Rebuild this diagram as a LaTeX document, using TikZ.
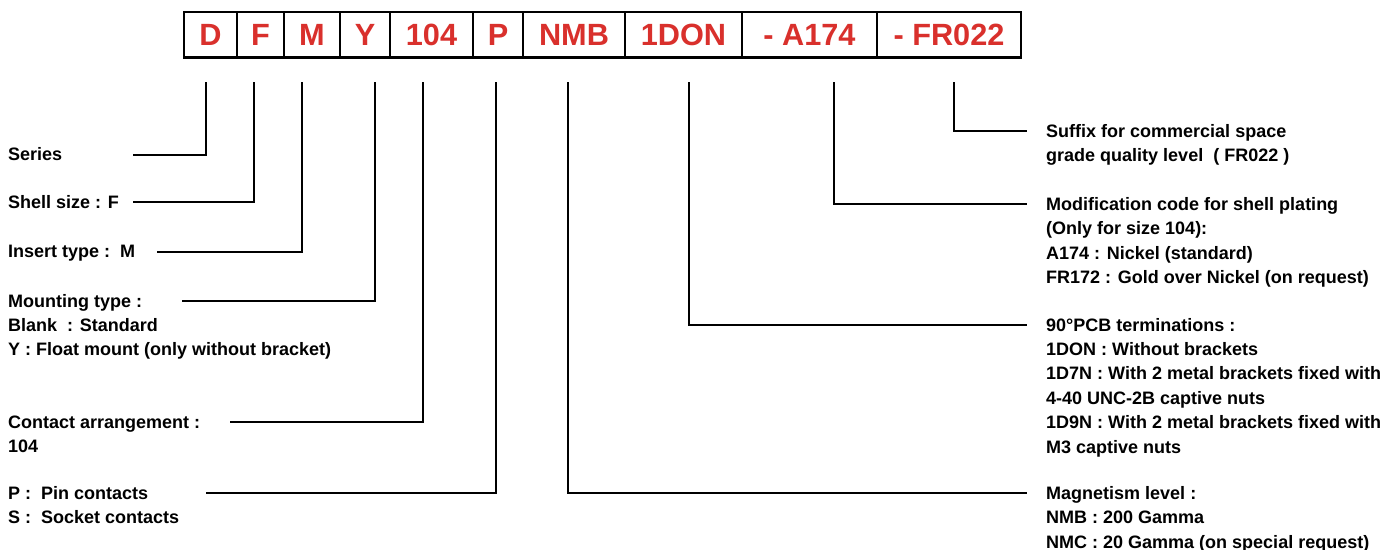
\documentclass[tikz,border=0pt]{standalone}
\usepackage{fontspec}
\setmainfont{Liberation Sans}
\definecolor{codered}{RGB}{217,48,44}
\begin{document}
\begin{tikzpicture}[x=1pt,y=-1pt,
  cbox/.style={draw=black,line width=2.6pt,minimum height=45.5pt,inner sep=0pt,
    text height=22pt,text depth=0pt,text=codered,
    font=\fontsize{30.7}{34}\selectfont\bfseries},
  lbl/.style={anchor=base west,inner sep=0pt,align=left,
    font=\fontsize{18}{24.4}\selectfont\bfseries},
  leader/.style={draw=black,line width=1.7pt}]
\useasboundingbox[fill=white] (0,0) rectangle (1389,549);
% code boxes
\node[cbox,minimum width=53pt]  (bD)    at (210.5,34.75) {D};
\node[cbox,minimum width=47pt]  (bF)    at (260.5,34.75) {F};
\node[cbox,minimum width=56pt]  (bM)    at (312,34.75)   {M};
\node[cbox,minimum width=50pt]  (bY)    at (365,34.75)   {Y};
\node[cbox,minimum width=83pt]  (b104)  at (431.5,34.75) {104};
\node[cbox,minimum width=50pt]  (bP)    at (498,34.75)   {P};
\node[cbox,minimum width=102pt] (bNMB)  at (574,34.75)   {NMB};
\node[cbox,minimum width=117pt] (bDON)  at (683.5,34.75) {1DON};
\node[cbox,minimum width=135pt] (bA)    at (809.5,34.75) {- A174};
\node[cbox,minimum width=144pt] (bFR)   at (949,34.75)   {- FR022};
% leader starts
\coordinate (tD)   at (206,82);
\coordinate (tF)   at (254,82);
\coordinate (tM)   at (302,82);
\coordinate (tY)   at (375,82);
\coordinate (t104) at (423,82);
\coordinate (tP)   at (496,82);
\coordinate (tNMB) at (568,82);
\coordinate (tDON) at (689,82);
\coordinate (tA)   at (834,82);
\coordinate (tFR)  at (954,82);
% leader ends
\coordinate (eD)   at (133,155);
\coordinate (eF)   at (133,202);
\coordinate (eM)   at (157,252);
\coordinate (eY)   at (182,301);
\coordinate (e104) at (230,422);
\coordinate (eP)   at (206,493);
\coordinate (eNMB) at (1027,493);
\coordinate (eDON) at (1027,325);
\coordinate (eA)   at (1027,204);
\coordinate (eFR)  at (1027,131);
% labels left (anchor = baseline of last line)
\node[lbl] (lD)   at (8,160)   {Series};
\node[lbl] (lF)   at (8,208)   {Shell size : F};
\node[lbl] (lM)   at (8,257.5) {Insert type :\ \ M};
\node[lbl] (lY)   at (8,355.8) {Mounting type :\\Blank\ \ : Standard\\Y : Float mount (only without bracket)};
\node[lbl] (l104) at (8,452.4) {Contact arrangement :\\104};
\node[lbl] (lP)   at (8,523.4) {P :\ \ Pin contacts\\S :\ \ Socket contacts};
% labels right
\node[lbl] (lFR)  at (1046,161.9) {Suffix for commercial space\\grade quality level\ \ ( FR022 )};
\node[lbl] (lA)   at (1046,283.7) {Modification code for shell plating\\(Only for size 104):\\A174 : Nickel (standard)\\FR172 : Gold over Nickel (on request)};
\node[lbl] (lDON) at (1046,453)   {90°PCB terminations :\\1DON : Without brackets\\1D7N : With 2 metal brackets fixed with\\4-40 UNC-2B captive nuts\\1D9N : With 2 metal brackets fixed with\\M3 captive nuts};
\node[lbl] (lNMB) at (1046,548.3) {Magnetism level :\\NMB : 200 Gamma\\NMC : 20 Gamma (on special request)};
% leaders
\draw[leader] (tD) |- (eD);
\draw[leader] (tF) |- (eF);
\draw[leader] (tM) |- (eM);
\draw[leader] (tY) |- (eY);
\draw[leader] (t104) |- (e104);
\draw[leader] (tP) |- (eP);
\draw[leader] (tNMB) |- (eNMB);
\draw[leader] (tDON) |- (eDON);
\draw[leader] (tA) |- (eA);
\draw[leader] (tFR) |- (eFR);
\end{tikzpicture}
\end{document}
